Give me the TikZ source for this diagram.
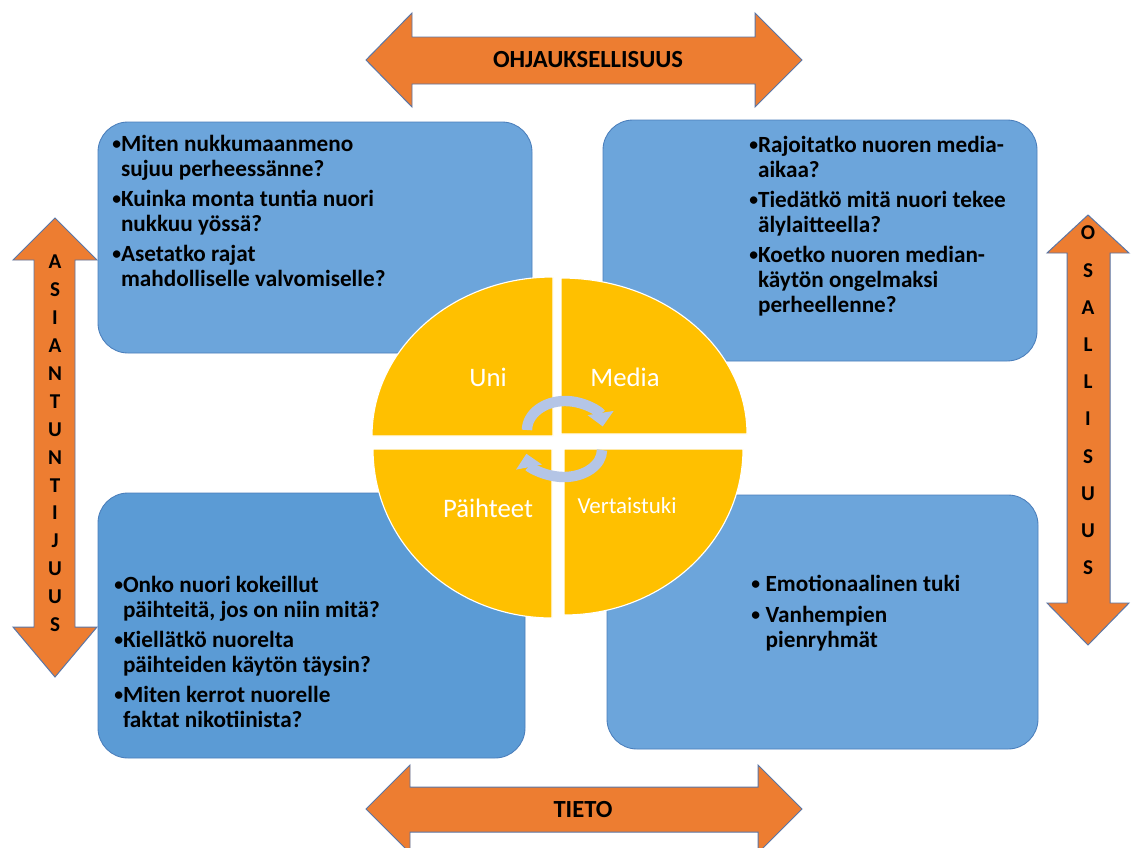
\documentclass[tikz,border=0pt]{standalone}
\usepackage{fontspec}
\setmainfont{Carlito}
\usepackage{xcolor}
\definecolor{oranssi}{HTML}{ED7D31}
\definecolor{reuna}{HTML}{5A76A6}
\definecolor{vaalea}{HTML}{6CA5DB}
\definecolor{tumma}{HTML}{5B9BD5}
\definecolor{laatikkoreuna}{HTML}{4A7EBB}
\definecolor{keltainen}{HTML}{FFC000}
\definecolor{kierto}{HTML}{B4C5E6}
\usetikzlibrary{arrows.meta}
\newcommand{\pallo}{\raisebox{1.2pt}{\fontsize{12.5}{12.5}\selectfont •}\hspace{2.5pt}}

\begin{document}
\begin{tikzpicture}[x=0.025cm,y=-0.025cm,
    nuoli/.style={fill=oranssi,draw=reuna,line width=0.7pt,line join=miter},
    laatikko/.style={fill=vaalea,draw=laatikkoreuna,line width=0.6pt,rounded corners=0.75cm},
    pala/.style={fill=keltainen,draw=white,line width=0.8pt},
    kysymys/.style={inner sep=0pt,anchor=base west,align=left,font=\fontsize{16.5}{17.8}\selectfont\bfseries},
    otsikko/.style={inner sep=0pt,font=\fontsize{17.5}{19}\selectfont\bfseries},
    kirjain/.style={inner sep=0pt,font=\fontsize{15}{17}\selectfont\bfseries},
    alue/.style={inner sep=0pt,text=white,font=\fontsize{19}{22}\selectfont},
    kaari/.style={draw=kierto,line width=0.26cm,-{Triangle[width=0.64cm,length=0.34cm]}}]
       \useasboundingbox (0,0) rectangle (1131,848);
       \fill[white] (0,0) rectangle (1131,848);
       % suuret nuolet
       \draw[nuoli] (366,60) -- (412,13) -- (412,37) -- (755,37) -- (755,13) -- (802,60)
              -- (755,107) -- (755,84) -- (412,84) -- (412,107) -- cycle;
       \draw[nuoli] (366,809) -- (410,765) -- (410,787) -- (758,787) -- (758,765) -- (802,809)
              -- (758,853) -- (758,832) -- (410,832) -- (410,853) -- cycle;
       \draw[nuoli] (55,218) -- (97,260) -- (75,260) -- (75,627) -- (97,627) -- (55,677)
              -- (13,627) -- (34,627) -- (34,260) -- (13,260) -- cycle;
       \draw[nuoli] (1088,215) -- (1129,253) -- (1110,253) -- (1110,603) -- (1129,603) -- (1088,645)
              -- (1047,603) -- (1067,603) -- (1067,253) -- (1047,253) -- cycle;
       \node[otsikko] (ohjaus) at (588,60) {OHJAUKSELLISUUS};
       \node[otsikko] (tieto) at (583,810) {TIETO};
       \foreach \k [count=\i] in {A,S,I,A,N,T,U,N,T,I,J,U,U,S}
          \node[kirjain] (asian\i) at (55,{262+(\i-1)*27.9}) {\k};
       \foreach \k [count=\i] in {O,S,A,L,L,I,S,U,U,S}
          \node[kirjain] (osal\i) at (1088,{233+(\i-1)*37.2}) {\k};
       % laatikot
       \draw[laatikko] (98,122) rectangle (532,353);
       \draw[laatikko] (603,120) rectangle (1037,361);
       \draw[laatikko,fill=tumma] (98,493) rectangle (525,758);
       \draw[laatikko] (607,495) rectangle (1038,749);
       \node[kysymys] (uni-q) at (112,151) {\begin{tabular}[t]{@{}l@{}l@{}}
          \pallo&Miten nukkumaanmeno\\
          &sujuu perheessänne?\\[3.6pt]
          \pallo&Kuinka monta tuntia nuori\\
          &nukkuu yössä?\\[3.6pt]
          \pallo&Asetatko rajat\\
          &mahdolliselle valvomiselle?
       \end{tabular}};
       \node[kysymys] (media-q) at (749,152) {\begin{tabular}[t]{@{}l@{}l@{}}
          \pallo&Rajoitatko nuoren media-\\
          &aikaa?\\[3.6pt]
          \pallo&Tiedätkö mitä nuori tekee\\
          &älylaitteella?\\[3.6pt]
          \pallo&Koetko nuoren median-\\
          &käytön ongelmaksi\\
          &perheellenne?
       \end{tabular}};
       \node[kysymys] (paihde-q) at (114,592) {\begin{tabular}[t]{@{}l@{}l@{}}
          \pallo&Onko nuori kokeillut\\
          &päihteitä, jos on niin mitä?\\[3.6pt]
          \pallo&Kiellätkö nuorelta\\
          &päihteiden käytön täysin?\\[3.6pt]
          \pallo&Miten kerrot nuorelle\\
          &faktat nikotiinista?
       \end{tabular}};
       \node[kysymys] (vertais-q) at (751,591) {\begin{tabular}[t]{@{}l@{\hspace{4pt}}l@{}}
          \pallo&Emotionaalinen tuki\\[4.5pt]
          \pallo&Vanhempien\\
          &pienryhmät
       \end{tabular}};
       % ympyrä
       \draw[pala] (553,436) -- (372,436) arc[start angle=180,end angle=270,x radius=181,y radius=159] -- cycle;
       \draw[pala] (561,434) -- (561,278) arc[start angle=270,end angle=360,x radius=186,y radius=156] -- cycle;
       \draw[pala] (564,449) -- (743,449) arc[start angle=0,end angle=90,x radius=179,y radius=166] -- cycle;
       \draw[pala] (552,449) -- (552,618) arc[start angle=90,end angle=180,x radius=179,y radius=169] -- cycle;
       \node[alue] (uni) at (488,377) {Uni};
       \node[alue] (media) at (625,377) {Media};
       \node[alue] (paihteet) at (488,508) {Päihteet};
       \node[alue,font=\fontsize{16.3}{19}\selectfont] (vertaistuki) at (627,506) {Vertaistuki};
       \draw[kaari] (527,430) arc[start angle=180,end angle=353,x radius=38,y radius=29];
       \draw[kaari] (602,450) arc[start angle=0,end angle=172,x radius=38,y radius=27];
     \end{tikzpicture}
\end{document}
